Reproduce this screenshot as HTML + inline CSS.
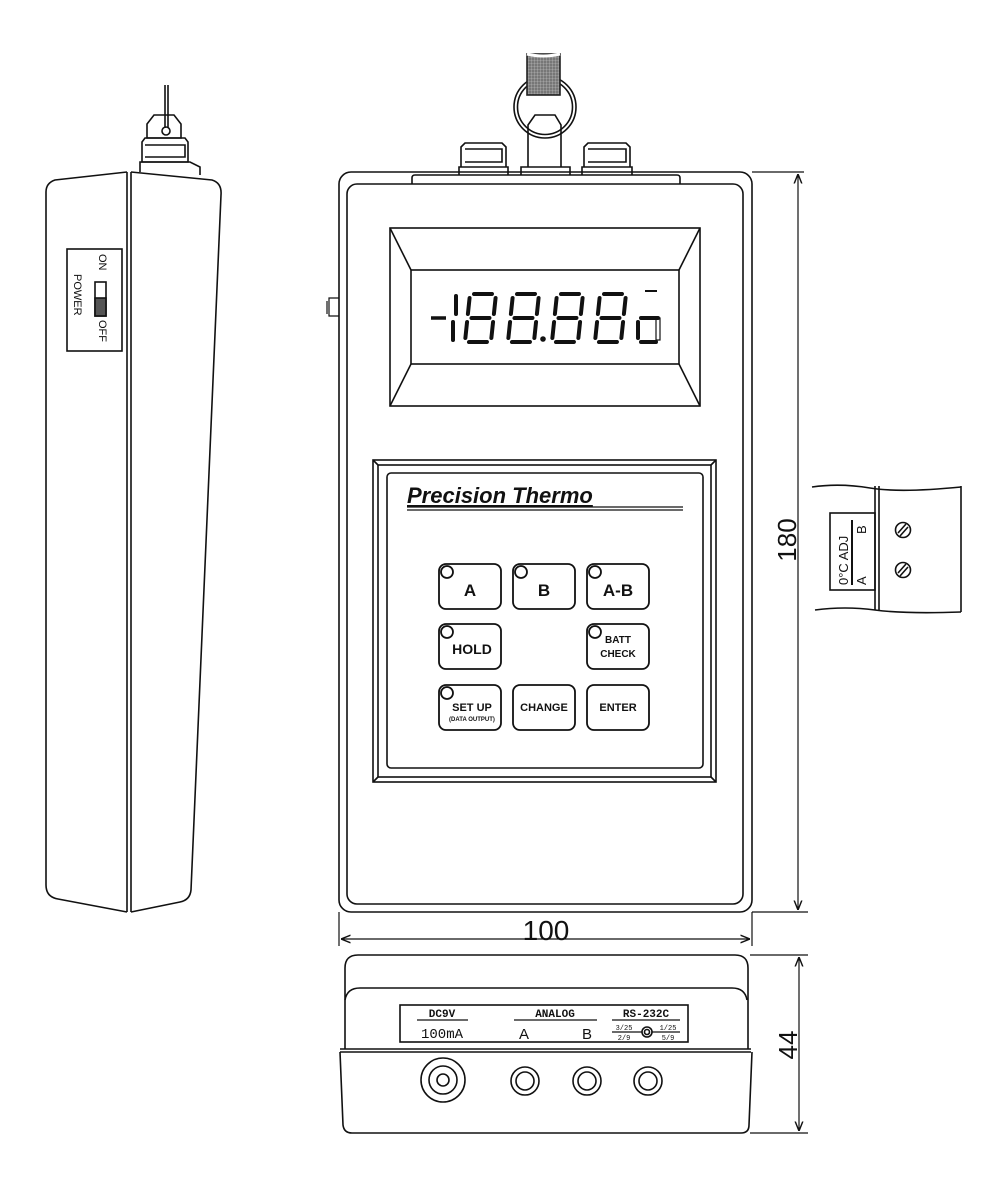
<!DOCTYPE html>
<html><head><meta charset="utf-8"><style>
html,body{margin:0;padding:0;background:#fff}
svg{display:block}
text{font-family:"Liberation Sans",sans-serif;fill:#111}
</style></head><body>
<svg width="988" height="1200" viewBox="0 0 988 1200" xmlns="http://www.w3.org/2000/svg">
<defs>
<pattern id="hatch" width="3" height="3" patternUnits="userSpaceOnUse">
<rect width="3" height="3" fill="#777"/><path d="M0 0H3M0 0V3" stroke="#ccc" stroke-width="0.6"/>
</pattern>
<marker id="ar" viewBox="0 0 10 10" refX="10" refY="5" markerWidth="8" markerHeight="8" orient="auto-start-reverse"><path d="M0 1L10 5L0 9" fill="none" stroke="#111" stroke-width="1.5"/></marker>
<g id="d8" stroke="#111" stroke-width="4" stroke-linecap="round" fill="none">
<path d="M4 0H22M0 4V20M26 4V20M4 24H22M0 28V44M26 28V44M4 48H22"/>
</g>
</defs>
<g fill="none" stroke="#111" stroke-width="1.6">
<path d="M165 85V128M168 85V128"/>
<circle cx="166" cy="131" r="4"/>
<path d="M147 138V124L154 115H174L181 124V138Z"/>
<path d="M142 162V142L145 138H185L188 142V162Z"/>
<path d="M145 145H185V157H145"/>
<path d="M140 172V162H190L200 167V175"/>
<path d="M127 172L55 180Q46 183 46 192V885Q46 897 58 899L127 912"/>
<path d="M131 172L212 180Q222 183 221 195L191 890Q190 900 180 902L131 912"/>
<path d="M127 172V912M131 172V912"/>
<rect x="67" y="249" width="55" height="102"/>
<rect x="95" y="282" width="11" height="34"/>
<rect x="95" y="298" width="11" height="18" fill="#555"/>
<rect x="339" y="172" width="413" height="740" rx="12"/>
<rect x="347" y="184" width="396" height="720" rx="10"/>
<path d="M412 184V178Q412 175 415 175H677Q680 175 680 178V184"/>
<path d="M459 175V167H508V175M461 167V147L465 143H502L506 147V167M465 149H502V162H465"/>
<path d="M582 175V167H632V175M584 167V147L588 143H626L630 147V167M588 149H626V162H588"/>
<path d="M521 175V167H570V175"/>
<path d="M528 167V125L535 115H555L561 125V167"/>
<circle cx="545" cy="107" r="31"/>
<circle cx="545" cy="107" r="27.5"/>
<rect x="527" y="54" width="33" height="41" fill="url(#hatch)" stroke="#222"/>
<path d="M527 54Q543 58 560 54" stroke="#fff" stroke-width="3"/>
<path d="M339 298H329V316H339M327 301V314" stroke-width="1.2"/>
<rect x="390" y="228" width="310" height="178"/>
<rect x="411" y="270" width="268" height="94"/>
<path d="M390 228L411 270M700 228L679 270M390 406L411 364M700 406L679 364"/>
<rect x="373" y="460" width="343" height="322"/>
<rect x="378" y="465" width="333" height="312"/>
<path d="M373 460L378 465M716 460L711 465M373 782L378 777M716 782L711 777"/>
<rect x="387" y="473" width="316" height="295" rx="4"/>
<path d="M407 507H683M407 510H683" stroke-width="1.2"/>
<g stroke-width="1.8">
<rect x="439" y="564" width="62" height="45" rx="7"/><circle cx="447" cy="572" r="6" fill="#fff"/>
<rect x="513" y="564" width="62" height="45" rx="7"/><circle cx="521" cy="572" r="6" fill="#fff"/>
<rect x="587" y="564" width="62" height="45" rx="7"/><circle cx="595" cy="572" r="6" fill="#fff"/>
<rect x="439" y="624" width="62" height="45" rx="7"/><circle cx="447" cy="632" r="6" fill="#fff"/>
<rect x="587" y="624" width="62" height="45" rx="7"/><circle cx="595" cy="632" r="6" fill="#fff"/>
<rect x="439" y="685" width="62" height="45" rx="7"/><circle cx="447" cy="693" r="6" fill="#fff"/>
<rect x="513" y="685" width="62" height="45" rx="7"/>
<rect x="587" y="685" width="62" height="45" rx="7"/>
</g>
<path d="M752 172H804M752 912H808M339 912V946M752 912V946" stroke-width="1.2"/>
<path d="M798 174V910" stroke-width="1.2" marker-start="url(#ar)" marker-end="url(#ar)"/>
<path d="M341 939H750" stroke-width="1.2" marker-start="url(#ar)" marker-end="url(#ar)"/>
<path d="M345 1049V968Q345 955 358 955H735Q748 955 748 968V1049"/>
<path d="M345 1000Q347 988 360 988H732Q745 988 747 1000"/>
<path d="M340 1049H751M340 1052H751" stroke-width="1.4"/>
<path d="M340 1052L343 1125Q344 1133 352 1133H741Q749 1133 749 1125L752 1052"/>
<rect x="400" y="1005" width="288" height="37"/>
<path d="M417 1020H468M514 1020H597M612 1020H680M612 1032H680" stroke-width="1.2"/>
<circle cx="647" cy="1032" r="5" fill="#fff"/><circle cx="647" cy="1032" r="2.5"/>
<circle cx="443" cy="1080" r="22"/><circle cx="443" cy="1080" r="14"/><circle cx="443" cy="1080" r="6"/>
<circle cx="525" cy="1081" r="14"/><circle cx="525" cy="1081" r="9"/>
<circle cx="587" cy="1081" r="14"/><circle cx="587" cy="1081" r="9"/>
<circle cx="648" cy="1081" r="14"/><circle cx="648" cy="1081" r="9"/>
<path d="M750 955H808M750 1133H808" stroke-width="1.2"/>
<path d="M799 957V1131" stroke-width="1.2" marker-start="url(#ar)" marker-end="url(#ar)"/>
<path d="M812 487Q840 483 870 488T961 487M815 610Q845 606 875 610T961 612"/>
<path d="M875 486V610M879 486V610M961 486V612"/>
<rect x="830" y="513" width="45" height="77"/>
<path d="M852 520V585" stroke-width="2"/>
<circle cx="903" cy="530" r="7.5"/><path d="M898 533L906 524M900 536L908 527"/>
<circle cx="903" cy="570" r="7.5"/><path d="M898 573L906 564M900 576L908 567"/>
</g>
<g>
<path d="M431 318H446" stroke="#111" stroke-width="3.5" fill="none"/>
<path d="M456 296V314M453 322V340" stroke="#111" stroke-width="4" stroke-linecap="round"/>
<use href="#d8" transform="translate(470,294) skewX(-6)"/>
<use href="#d8" transform="translate(513,294) skewX(-6)"/>
<circle cx="543" cy="339" r="2.8" fill="#111"/>
<use href="#d8" transform="translate(557,294) skewX(-6)"/>
<use href="#d8" transform="translate(600,294) skewX(-6)"/>
<path d="M641 318H658M638 322V338M641 342H656" stroke="#111" stroke-width="4" stroke-linecap="round" fill="none"/>
<path d="M645 291H657" stroke="#111" stroke-width="2" fill="none"/>
<rect x="656" y="318" width="4" height="22" fill="none" stroke="#111" stroke-width="1.2"/>
</g>
<text transform="translate(99,254) rotate(90)" font-size="11">ON</text>
<text transform="translate(99,320) rotate(90)" font-size="11">OFF</text>
<text transform="translate(74,274) rotate(90)" font-size="11">POWER</text>
<text x="407" y="503" font-size="22" font-weight="bold" font-style="italic" text-decoration="underline">Precision Thermo</text>
<g font-weight="bold" text-anchor="middle">
<text x="470" y="596" font-size="17">A</text>
<text x="544" y="596" font-size="17">B</text>
<text x="618" y="596" font-size="17">A-B</text>
<text x="472" y="654" font-size="14">HOLD</text>
<text x="618" y="643" font-size="10">BATT</text>
<text x="618" y="657" font-size="10">CHECK</text>
<text x="472" y="711" font-size="11">SET UP</text>
<text x="472" y="721" font-size="6">(DATA OUTPUT)</text>
<text x="544" y="711" font-size="11">CHANGE</text>
<text x="618" y="711" font-size="11">ENTER</text>
</g>
<text x="546" y="940" font-size="28" text-anchor="middle">100</text>
<text transform="translate(796,540) rotate(-90)" font-size="26" text-anchor="middle">180</text>
<text transform="translate(797,1045) rotate(-90)" font-size="26" text-anchor="middle">44</text>
<g text-anchor="middle">
<text x="442" y="1017" font-size="11" font-weight="bold" style="font-family:'Liberation Mono',monospace">DC9V</text>
<text x="442" y="1038" font-size="14" style="font-family:'Liberation Mono',monospace">100mA</text>
<text x="555" y="1017" font-size="11" font-weight="bold" style="font-family:'Liberation Mono',monospace">ANALOG</text>
<text x="646" y="1017" font-size="11" font-weight="bold" style="font-family:'Liberation Mono',monospace">RS-232C</text>
<text x="624" y="1030" font-size="7" style="font-family:'Liberation Mono',monospace">3/25</text>
<text x="668" y="1030" font-size="7" style="font-family:'Liberation Mono',monospace">1/25</text>
<text x="624" y="1040" font-size="7" style="font-family:'Liberation Mono',monospace">2/9</text>
<text x="668" y="1040" font-size="7" style="font-family:'Liberation Mono',monospace">5/9</text>
</g>
<text x="524" y="1039" font-size="15" text-anchor="middle">A</text>
<text x="587" y="1039" font-size="15" text-anchor="middle">B</text>
<text transform="translate(848,585) rotate(-90)" font-size="13">0°C ADJ</text>
<text transform="translate(866,585) rotate(-90)" font-size="13">A</text>
<text transform="translate(866,534) rotate(-90)" font-size="13">B</text>
</svg>
</body></html>
